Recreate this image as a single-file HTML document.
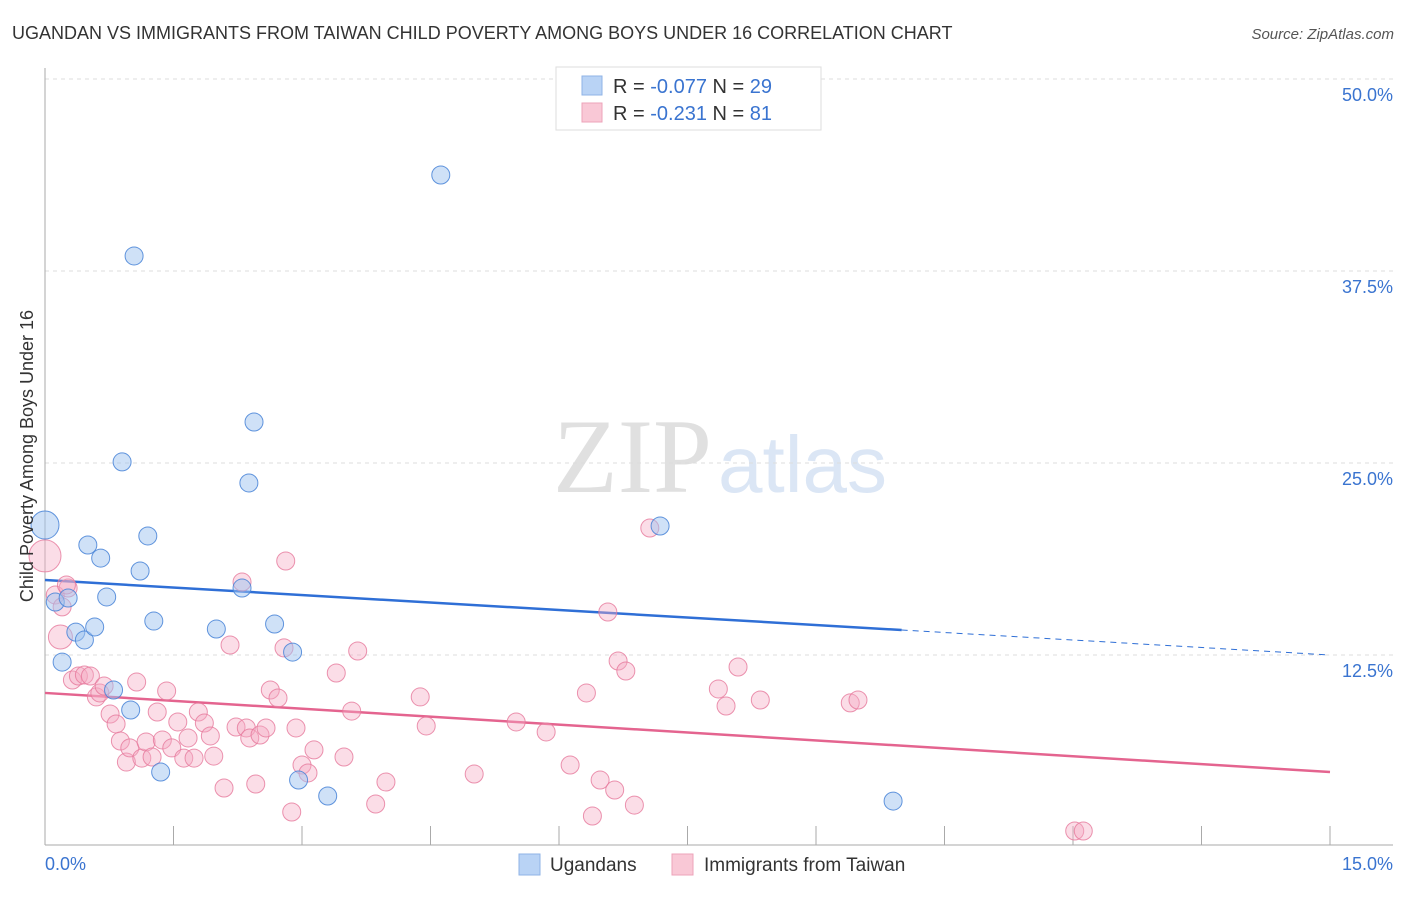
<!DOCTYPE html>
<html><head><meta charset="utf-8">
<style>
body{margin:0;background:#fff;font-family:"Liberation Sans",sans-serif;}
svg text{font-family:"Liberation Sans",sans-serif;}
</style></head>
<body>
<svg id="chart" width="1406" height="892" xmlns="http://www.w3.org/2000/svg">
<text x="12" y="39" font-size="18" fill="#333">UGANDAN VS IMMIGRANTS FROM TAIWAN CHILD POVERTY AMONG BOYS UNDER 16 CORRELATION CHART</text>
<text x="1394" y="39" font-size="15" fill="#555" text-anchor="end" font-style="italic">Source: ZipAtlas.com</text>
<g>
<text x="553" y="492" font-size="106" fill="#e0e0e0" font-family="Liberation Serif, serif" style="font-family:'Liberation Serif',serif">ZIP</text>
<text x="718" y="492" font-size="80" fill="#dbe6f5">atlas</text>
</g>
<g id="grid"></g>
<g id="axes"></g>
<g id="trends"></g>
<g id="points"></g>
<text transform="translate(33,456) rotate(-90)" font-size="18" fill="#333" text-anchor="middle">Child Poverty Among Boys Under 16</text>
<g>
<rect x="556" y="67" width="265" height="63" fill="#fff" stroke="#ddd"/>
<rect x="582" y="76" width="20" height="19" fill="#b9d3f5" stroke="#8fb3e6"/>
<rect x="582" y="103" width="20" height="19" fill="#f9c8d6" stroke="#eda3b9"/>
<text x="613" y="93" font-size="20" fill="#333">R = <tspan fill="#3a74d0">-0.077</tspan>   N = <tspan fill="#3a74d0">29</tspan></text>
<text x="613" y="120" font-size="20" fill="#333">R =  <tspan fill="#3a74d0">-0.231</tspan>   N =  <tspan fill="#3a74d0">81</tspan></text>
</g>
<g>
<rect x="519" y="854" width="21" height="21" fill="#b9d3f5" stroke="#8fb3e6"/>
<text x="550" y="871" font-size="19" fill="#333">Ugandans</text>
<rect x="672" y="854" width="21" height="21" fill="#f9c8d6" stroke="#eda3b9"/>
<text x="704" y="871" font-size="19" fill="#333">Immigrants from Taiwan</text>
</g>
</svg>
<script>
const yTicks=[12.5,25,37.5,50];
const yTickLabels=["12.5%","25.0%","37.5%","50.0%"];
const xTickLabels=["0.0%","15.0%"];
const ugX=[0,0.12,0.27,0.20,0.36,0.46,0.50,0.58,0.65,0.72,0.80,0.90,1.00,1.04,1.11,1.20,1.27,1.35,2.00,2.30,2.38,2.44,2.68,2.89,2.96,3.30,4.62,7.18,9.90];
const ugY=[20.96,15.95,16.21,12.04,13.99,13.48,19.66,14.32,18.81,16.28,10.22,25.07,8.92,38.48,17.97,20.25,14.71,4.88,14.19,16.86,23.70,27.67,14.52,12.69,4.36,3.32,43.75,20.90,2.99];
const ugR=[14,9,9,9,9,9,9,9,9,9,9,9,9,9,9,9,9,9,9,9,9,9,9,9,9,9,9,9,9];
const twPx=[45,55,62,68,60,72,78,84,90,96,100,104,110,116,120,126,130,137,142,146,152,157,162,167,172,178,184,188,194,198,204,210,214,224,230,236,242,246,250,256,260,266,270,278,284,286,292,296,302,308,314,336,344,352,358,376,386,420,426,474,516,546,570,586,592,600,608,615,618,626,634,650,718,726,738,760,850,858,1075,1083,66];
const twPy=[556,595,607,588,637,680,676,675,676,697,693,686,714,724,741,762,748,682,758,742,757,712,740,691,748,722,758,738,758,712,723,736,756,788,645,727,582,728,738,784,735,728,690,698,648,561,812,728,765,773,750,673,757,711,651,804,782,697,726,774,722,732,765,693,816,780,612,790,661,671,805,528,689,706,667,700,703,700,831,831,585];
// convert pixel readings to data values
const twX=twPx.map(p=>+((p-45)/1285*15).toFixed(2));
const twY=twPy.map(p=>+((847-p)/192*12.5).toFixed(2));
const twR=twX.map((v,i)=>i===0?16:(i===4?12:9));
const ugTrend=[17.38,12.5]; // y at x=0 and x=15
const twTrend=[10.03,4.88];
const ugSolidEnd=10.0;

const X0=45,X1=1330,Y0=847,YTOP=79;
const sx=v=>X0+v/15*(X1-X0);
const sy=v=>Y0-v/50*(Y0-YTOP);
const NS="http://www.w3.org/2000/svg";
function mk(tag,attrs,parent){const e=document.createElementNS(NS,tag);for(const k in attrs)e.setAttribute(k,attrs[k]);document.getElementById(parent).appendChild(e);return e;}

yTicks.forEach((t,i)=>{
  const g=mk('line',{x1:X0,x2:1393,y1:sy(t),y2:sy(t),stroke:'#ddd','stroke-dasharray':'4,4'},'grid');
  
  
  const l=mk('text',{x:1393,y:sy(t)+22,'font-size':18,fill:'#3a74d0','text-anchor':'end'},'grid');
  l.textContent=yTickLabels[i];
  
  
});
const ax=mk('line',{x1:X0,x2:X0,y1:68,y2:845,stroke:'#aaa'},'axes');


const bx=mk('line',{x1:X0,x2:1393,y1:845,y2:845,stroke:'#aaa'},'axes');


for(let i=1;i<=10;i++){
  const t=mk('line',{x1:sx(i*1.5),x2:sx(i*1.5),y1:826,y2:845,stroke:'#aaa'},'axes');
  
  
}
[[0,'start',45],[15,'end',1393]].forEach((d,i)=>{
  const l=mk('text',{x:d[2],y:870,'font-size':18,fill:'#3a74d0','text-anchor':d[1]},'axes');
  l.textContent=xTickLabels[i];
  
  
});
const lin=(a,x)=>a[0]+(a[1]-a[0])*x/15;
const t1=mk('line',{x1:sx(0),y1:sy(lin(ugTrend,0)),x2:sx(ugSolidEnd),y2:sy(lin(ugTrend,ugSolidEnd)),stroke:'#2f6fd6','stroke-width':2.5},'trends');


const t2=mk('line',{x1:sx(ugSolidEnd),y1:sy(lin(ugTrend,ugSolidEnd)),x2:sx(15),y2:sy(lin(ugTrend,15)),stroke:'#2f6fd6','stroke-width':1,'stroke-dasharray':'6,5'},'trends');


const t3=mk('line',{x1:sx(0),y1:sy(lin(twTrend,0)),x2:sx(15),y2:sy(lin(twTrend,15)),stroke:'#e4648f','stroke-width':2.5},'trends');



twX.forEach((v,i)=>{
  const c=mk('circle',{cx:sx(v),cy:sy(twY[i]),r:twR[i],fill:'rgba(246,170,195,0.4)',stroke:'rgba(230,120,155,0.8)','stroke-width':1},'points');
  
  
});
ugX.forEach((v,i)=>{
  const c=mk('circle',{cx:sx(v),cy:sy(ugY[i]),r:ugR[i],fill:'rgba(160,195,240,0.5)',stroke:'rgba(70,130,215,0.85)','stroke-width':1},'points');
  
  
});
</script>
</body></html>
